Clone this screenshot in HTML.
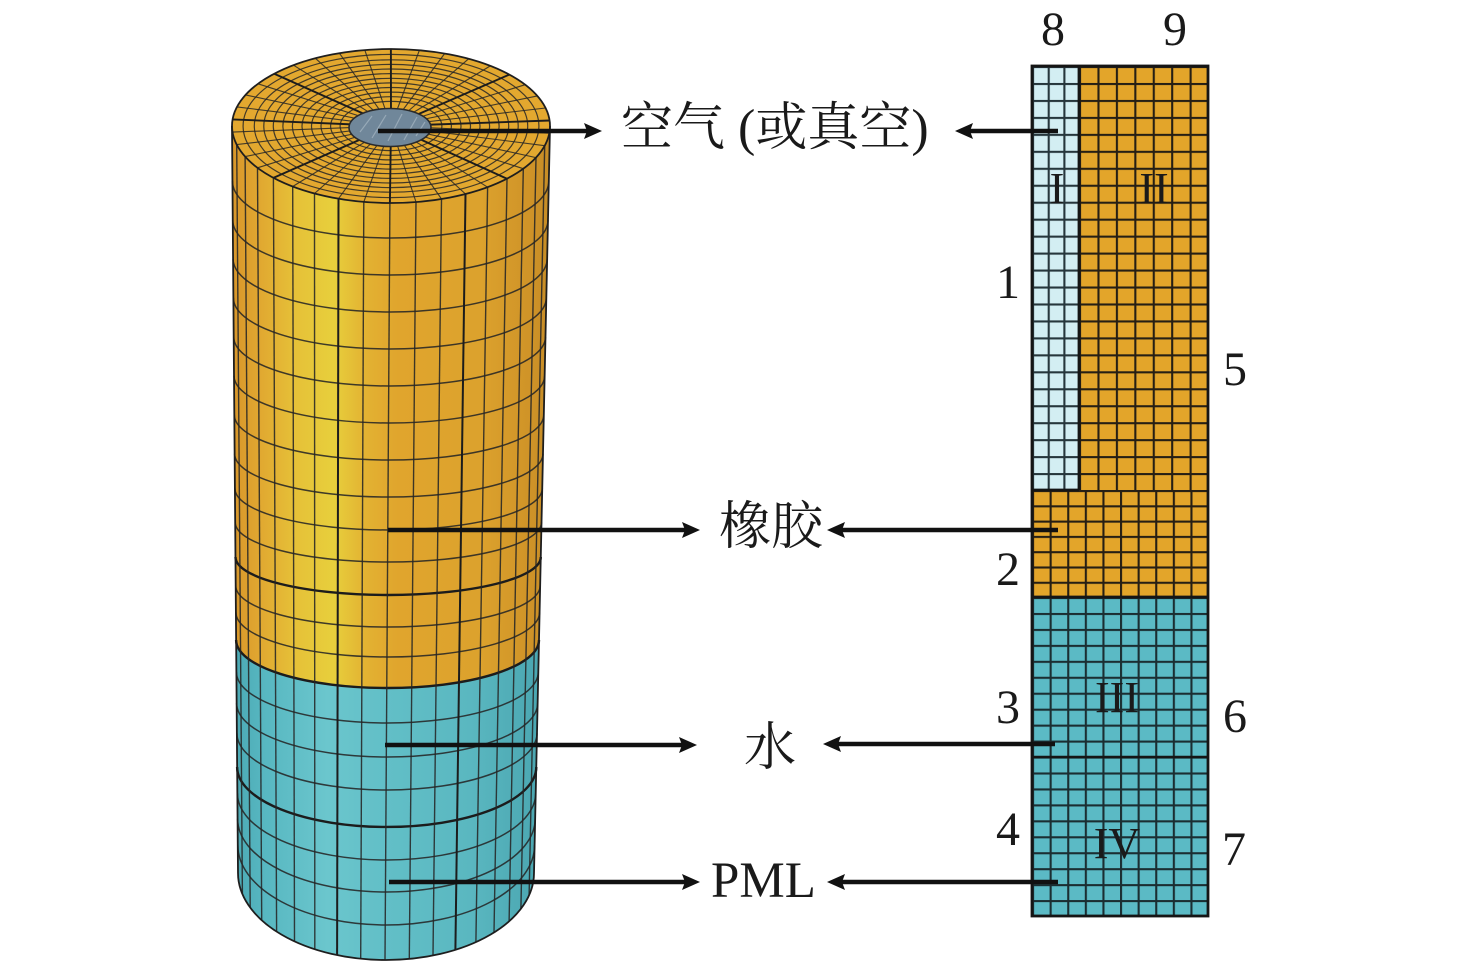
<!DOCTYPE html>
<html>
<head>
<meta charset="utf-8">
<style>
html,body{margin:0;padding:0;background:#fff;}
svg{display:block;}
</style>
</head>
<body>
<svg width="1476" height="968" viewBox="0 0 1476 968" xmlns="http://www.w3.org/2000/svg">
<defs>
  <linearGradient id="og" gradientUnits="userSpaceOnUse" x1="232" y1="0" x2="550" y2="0">
    <stop offset="0" stop-color="#d8962a"/>
    <stop offset="0.08" stop-color="#e0a630"/>
    <stop offset="0.2" stop-color="#e6c138"/>
    <stop offset="0.32" stop-color="#e7cf3c"/>
    <stop offset="0.42" stop-color="#e3b232"/>
    <stop offset="0.52" stop-color="#e0a52d"/>
    <stop offset="0.78" stop-color="#dca22d"/>
    <stop offset="0.93" stop-color="#d09428"/>
    <stop offset="1" stop-color="#c68c26"/>
  </linearGradient>
  <linearGradient id="tg" gradientUnits="userSpaceOnUse" x1="232" y1="0" x2="550" y2="0">
    <stop offset="0" stop-color="#4aa8b3"/>
    <stop offset="0.1" stop-color="#57b7c1"/>
    <stop offset="0.3" stop-color="#6bc6cd"/>
    <stop offset="0.45" stop-color="#63c0c8"/>
    <stop offset="0.75" stop-color="#5ab7c0"/>
    <stop offset="1" stop-color="#48a4af"/>
  </linearGradient>
  <pattern id="pB" x="1032" y="66" width="15.67" height="16.96" patternUnits="userSpaceOnUse">
    <rect x="0" y="0" width="15.67" height="16.96" fill="#d3eef3"/>
    <rect x="0" y="0" width="2.1" height="16.96" fill="#26363c"/>
    <rect x="0" y="0" width="15.67" height="2.1" fill="#26363c"/>
  </pattern>
  <pattern id="pO" x="1079" y="66" width="18.43" height="16.96" patternUnits="userSpaceOnUse">
    <rect x="0" y="0" width="18.43" height="16.96" fill="#e3a52a"/>
    <rect x="0" y="0" width="2.1" height="16.96" fill="#261f14"/>
    <rect x="0" y="0" width="18.43" height="2.1" fill="#261f14"/>
  </pattern>
  <pattern id="pO2" x="1032" y="490" width="17.6" height="15.29" patternUnits="userSpaceOnUse">
    <rect x="0" y="0" width="17.6" height="15.29" fill="#e3a52a"/>
    <rect x="0" y="0" width="2.1" height="15.29" fill="#261f14"/>
    <rect x="0" y="0" width="17.6" height="2.1" fill="#261f14"/>
  </pattern>
  <pattern id="pT" x="1032" y="597" width="17.6" height="15.95" patternUnits="userSpaceOnUse">
    <rect x="0" y="0" width="17.6" height="15.95" fill="#5bbac5"/>
    <rect x="0" y="0" width="2.1" height="15.95" fill="#1b2e32"/>
    <rect x="0" y="0" width="17.6" height="2.1" fill="#1b2e32"/>
  </pattern>
</defs>

<!-- ============ CYLINDER ============ -->
<path d="M232,126 L236.1,640 A151.45,48 0 0 0 539,640 L550,126 Z" fill="url(#og)"/>
<path d="M236.1,640 A151.45,48 0 0 0 539,640 L534,873 A148,87 0 0 1 238,873 Z" fill="url(#tg)"/>

<g fill="none" stroke="#262626" stroke-width="1.5" stroke-opacity="0.88">
  <path d="M232.4,181 A158.2,57 0 0 0 548.8,181"/>
  <path d="M232.7,220 A157.65,55 0 0 0 548,220"/>
  <path d="M233.1,258.9 A157.05,53.1 0 0 0 547.2,258.9"/>
  <path d="M233.4,297.9 A156.45,51.1 0 0 0 546.3,297.9"/>
  <path d="M233.7,336.9 A155.9,49.1 0 0 0 545.5,336.9"/>
  <path d="M234,375.8 A155.35,47.2 0 0 0 544.7,375.8"/>
  <path d="M234.3,414.8 A154.75,45.2 0 0 0 543.8,414.8"/>
  <path d="M234.6,453.8 A154.2,43.2 0 0 0 543,453.8"/>
  <path d="M234.9,488.5 A153.7,41.5 0 0 0 542.3,488.5"/>
  <path d="M235.2,522.2 A153.15,39.8 0 0 0 541.5,522.2"/>
  <path d="M235.7,585.6 A152.25,41.4 0 0 0 540.2,585.6"/>
  <path d="M235.9,612.4 A151.85,44.6 0 0 0 539.6,612.4"/>
  <path d="M236.4,672 A150.95,51 0 0 0 538.3,672"/>
  <path d="M236.6,703.1 A150.55,53.9 0 0 0 537.7,703.1"/>
  <path d="M236.9,733.2 A150.05,56.8 0 0 0 537,733.2"/>
  <path d="M237.4,793.3 A149.15,66.7 0 0 0 535.7,793.3"/>
  <path d="M237.6,818.8 A148.8,73.2 0 0 0 535.2,818.8"/>
  <path d="M237.8,845.1 A148.4,79.9 0 0 0 534.6,845.1"/>
</g>
<g fill="none" stroke="#1c1c1c" stroke-width="2.4">
  <path d="M235.5,557 A152.65,38 0 0 0 540.8,557"/>
  <path d="M236.1,640 A151.45,48 0 0 0 539,640"/>
  <path d="M237.1,767 A149.6,60 0 0 0 536.3,767"/>
</g>

<g stroke="#262626" stroke-width="1.4" stroke-opacity="0.88">
  <line x1="236.7" y1="144.6" x2="242.4" y2="894"/>
  <line x1="245.1" y1="156.6" x2="250.2" y2="907.6"/>
  <line x1="257.5" y1="167.8" x2="261.7" y2="920.3"/>
  <line x1="273.4" y1="177.9" x2="276.6" y2="931.6"/>
  <line x1="292.7" y1="186.5" x2="294.5" y2="941.4"/>
  <line x1="314.5" y1="193.5" x2="314.8" y2="949.3"/>
  <line x1="363.8" y1="201.9" x2="360.7" y2="958.7"/>
  <line x1="389.9" y1="203" x2="385" y2="960"/>
  <line x1="416" y1="202" x2="409.3" y2="958.9"/>
  <line x1="441.5" y1="199" x2="433" y2="955.5"/>
  <line x1="487.6" y1="187.2" x2="475.9" y2="942.1"/>
  <line x1="507" y1="178.7" x2="494" y2="932.5"/>
  <line x1="523.3" y1="168.7" x2="509.1" y2="921.3"/>
  <line x1="536" y1="157.6" x2="520.9" y2="908.7"/>
  <line x1="544.7" y1="145.7" x2="529.1" y2="895.2"/>
</g>
<g stroke="#1c1c1c" stroke-width="2">
  <line x1="338.5" y1="198.7" x2="337.1" y2="955.1"/>
  <line x1="465.5" y1="194" x2="455.4" y2="949.9"/>
</g>

<!-- top face -->
<ellipse cx="391" cy="126" rx="159" ry="77" fill="#e3a82f"/>
<g fill="none" stroke="#262626" stroke-width="1.2" stroke-opacity="0.85">
  <ellipse cx="391" cy="126" rx="50.9" ry="24.6"/>
  <ellipse cx="391" cy="126" rx="60.4" ry="29.3"/>
  <ellipse cx="391" cy="126" rx="70" ry="33.9"/>
  <ellipse cx="391" cy="126" rx="79.5" ry="38.5"/>
  <ellipse cx="391" cy="126" rx="89" ry="43.1"/>
  <ellipse cx="391" cy="126" rx="98.6" ry="47.7"/>
  <ellipse cx="391" cy="126" rx="108.1" ry="52.4"/>
  <ellipse cx="391" cy="126" rx="117.7" ry="57"/>
  <ellipse cx="391" cy="126" rx="127.2" ry="61.6"/>
  <ellipse cx="391" cy="126" rx="136.7" ry="66.2"/>
  <ellipse cx="391" cy="126" rx="147.9" ry="71.6"/>
</g>
<g stroke="#262626" stroke-width="1.1" stroke-opacity="0.85">
  <line x1="391" y1="126" x2="236.7" y2="144.6"/>
  <line x1="391" y1="126" x2="245.1" y2="156.6"/>
  <line x1="391" y1="126" x2="257.5" y2="167.8"/>
  <line x1="391" y1="126" x2="292.7" y2="186.5"/>
  <line x1="391" y1="126" x2="314.5" y2="193.5"/>
  <line x1="391" y1="126" x2="338.5" y2="198.7"/>
  <line x1="391" y1="126" x2="363.8" y2="201.9"/>
  <line x1="391" y1="126" x2="416" y2="202"/>
  <line x1="391" y1="126" x2="441.5" y2="199"/>
  <line x1="391" y1="126" x2="465.5" y2="194"/>
  <line x1="391" y1="126" x2="487.6" y2="187.2"/>
  <line x1="391" y1="126" x2="523.3" y2="168.7"/>
  <line x1="391" y1="126" x2="536" y2="157.6"/>
  <line x1="391" y1="126" x2="544.7" y2="145.7"/>
  <line x1="391" y1="126" x2="549.3" y2="133.2"/>
  <line x1="391" y1="126" x2="545.6" y2="108"/>
  <line x1="391" y1="126" x2="537.4" y2="95.9"/>
  <line x1="391" y1="126" x2="525.2" y2="84.7"/>
  <line x1="391" y1="126" x2="490.3" y2="65.9"/>
  <line x1="391" y1="126" x2="468.6" y2="58.8"/>
  <line x1="391" y1="126" x2="444.7" y2="53.5"/>
  <line x1="391" y1="126" x2="419.4" y2="50.2"/>
  <line x1="391" y1="126" x2="364.8" y2="50.1"/>
  <line x1="391" y1="126" x2="339.4" y2="53.2"/>
  <line x1="391" y1="126" x2="315.4" y2="58.3"/>
  <line x1="391" y1="126" x2="293.5" y2="65.2"/>
  <line x1="391" y1="126" x2="258" y2="83.8"/>
  <line x1="391" y1="126" x2="245.5" y2="94.9"/>
  <line x1="391" y1="126" x2="237" y2="106.9"/>
  <line x1="391" y1="126" x2="232.5" y2="132.1"/>
</g>
<g stroke="#1c1c1c" stroke-width="1.9">
  <line x1="391" y1="126" x2="232.6" y2="119.4"/>
  <line x1="391" y1="126" x2="273.4" y2="177.9"/>
  <line x1="391" y1="126" x2="389.9" y2="203"/>
  <line x1="391" y1="126" x2="507" y2="178.7"/>
  <line x1="391" y1="126" x2="549.6" y2="120.5"/>
  <line x1="391" y1="126" x2="509.3" y2="74.6"/>
  <line x1="391" y1="126" x2="390.9" y2="49"/>
  <line x1="391" y1="126" x2="274.2" y2="73.8"/>
</g>
<ellipse cx="391" cy="126" rx="159" ry="77" fill="none" stroke="#1e1e1e" stroke-width="1.8"/>
<ellipse cx="390" cy="127.5" rx="41" ry="19" fill="#70879a" stroke="#2a2a2a" stroke-width="1.6"/>
<g stroke="#a8b8c4" stroke-width="1.2" opacity="0.7">
  <line x1="360" y1="132" x2="372" y2="116"/>
  <line x1="372" y1="138" x2="386" y2="115"/>
  <line x1="388" y1="141" x2="402" y2="114"/>
  <line x1="404" y1="140" x2="417" y2="117"/>
  <line x1="416" y1="136" x2="425" y2="122"/>
</g>
<path d="M232,126 L238,873 A148,87 0 0 0 534,873 L550,126" fill="none" stroke="#1e1e1e" stroke-width="1.8"/>

<!-- ============ RIGHT PANEL ============ -->
<rect x="1032" y="66" width="47" height="424" fill="url(#pB)"/>
<rect x="1079" y="66" width="129" height="424" fill="url(#pO)"/>
<rect x="1032" y="490" width="176" height="107" fill="url(#pO2)"/>
<rect x="1032" y="597" width="176" height="319" fill="url(#pT)"/>
<g stroke="#151515" fill="none">
  <rect x="1032" y="66" width="176" height="850" stroke-width="2.8"/>
  <line x1="1079" y1="66" x2="1079" y2="490" stroke-width="2.8"/>
  <line x1="1032" y1="490" x2="1079" y2="490" stroke-width="2.8"/>
  <line x1="1032" y1="597" x2="1208" y2="597" stroke-width="2.8"/>
  <line x1="1032" y1="757" x2="1208" y2="757" stroke-width="2.4"/>
</g>

<!-- ============ ARROWS ============ -->
<g stroke="#111" stroke-width="4.5">
  <line x1="378" y1="131" x2="588" y2="131"/>
  <line x1="1058" y1="131" x2="969" y2="131"/>
  <line x1="388" y1="530" x2="686" y2="530"/>
  <line x1="1058" y1="530" x2="841" y2="530"/>
  <line x1="385" y1="745" x2="683" y2="745"/>
  <line x1="1055" y1="744" x2="837" y2="744"/>
  <line x1="389" y1="882" x2="686" y2="882"/>
  <line x1="1058" y1="882" x2="841" y2="882"/>
</g>
<g fill="#111">
  <polygon points="602,131 584,123 587,131 584,139"/>
  <polygon points="955,131 973,123 970,131 973,139"/>
  <polygon points="700,530 682,522 685,530 682,538"/>
  <polygon points="827,530 845,522 842,530 845,538"/>
  <polygon points="697,745 679,737 682,745 679,753"/>
  <polygon points="823,744 841,736 838,744 841,752"/>
  <polygon points="700,882 682,874 685,882 682,890"/>
  <polygon points="827,882 845,874 842,882 845,890"/>
</g>

<!-- ============ LABELS ============ -->
<g font-family="'Liberation Serif','Noto Serif CJK SC',serif" fill="#1a1a1a">
  <text x="621" y="145" font-size="52">空气 (或真空)</text>
  <text x="719" y="544" font-size="52">橡胶</text>
  <text x="744" y="765" font-size="52">水</text>
  <text x="711" y="897" font-size="51">PML</text>
</g>
<g font-family="'Liberation Serif',serif" fill="#1a1a1a" font-size="48" text-anchor="middle">
  <text x="1053" y="45">8</text>
  <text x="1175" y="45">9</text>
  <text x="1008" y="298">1</text>
  <text x="1235" y="385">5</text>
  <text x="1008" y="585">2</text>
  <text x="1008" y="723">3</text>
  <text x="1235" y="732">6</text>
  <text x="1008" y="845">4</text>
  <text x="1234" y="865">7</text>
</g>
<g font-family="'Liberation Serif',serif" fill="#1a1a1a" font-size="44" text-anchor="middle">
  <text x="1057" y="203">I</text>
  <text x="1154" y="203">II</text>
  <text x="1117" y="712">III</text>
  <text x="1117" y="858">IV</text>
</g>
</svg>
</body>
</html>
